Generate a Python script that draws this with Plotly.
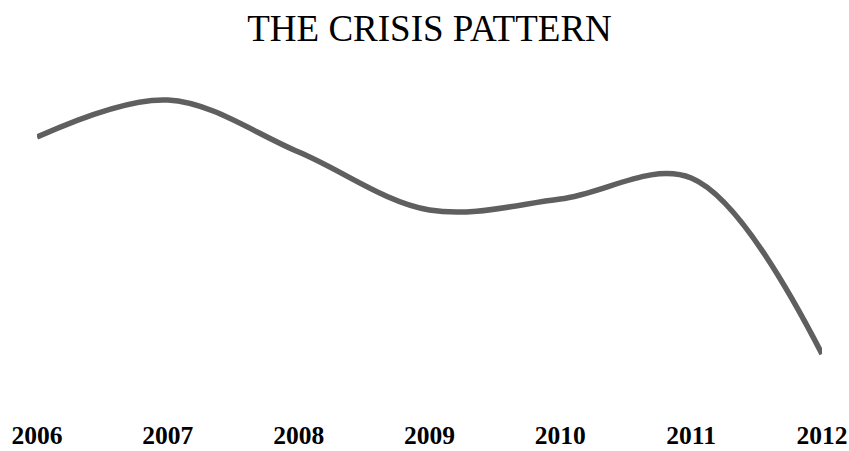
import plotly.graph_objects as go

# Yearly index values for the crisis trend
years = [2006, 2007, 2008, 2009, 2010, 2011, 2012]
values = [26.3, 30.0, 24.8, 19.0, 20.1, 22.2, 4.6]
tick_labels = [str(y) for y in years]

fig = go.Figure(
    go.Scatter(
        x=years,
        y=values,
        mode="lines",
        line=dict(color="#5f5f5f", width=5.5, shape="spline", smoothing=1),
        cliponaxis=False,
        hoverinfo="skip",
    )
)

fig.update_layout(
    width=849,
    height=451,
    margin=dict(l=37, r=27, t=0, b=51),
    paper_bgcolor="white",
    plot_bgcolor="white",
    showlegend=False,
    title=dict(
        text="THE CRISIS PATTERN",
        font=dict(family="Liberation Serif, Times New Roman, serif", size=37, color="#000000"),
        x=0.5,
        xref="paper",
        xanchor="center",
        y=0.937,
        yref="container",
        yanchor="middle",
    ),
    xaxis=dict(
        range=[2006, 2012],
        tickvals=years,
        ticktext=[f"<b>{t}</b>" for t in tick_labels],
        tickfont=dict(family="Liberation Serif, Times New Roman, serif", size=25.5, color="#000000"),
        showgrid=False,
        zeroline=False,
        showline=False,
        ticks="",
        ticklabelstandoff=17,
    ),
    yaxis=dict(
        range=[0, 40],
        visible=False,
        showgrid=False,
        zeroline=False,
    ),
)

fig.write_html("out.html")
